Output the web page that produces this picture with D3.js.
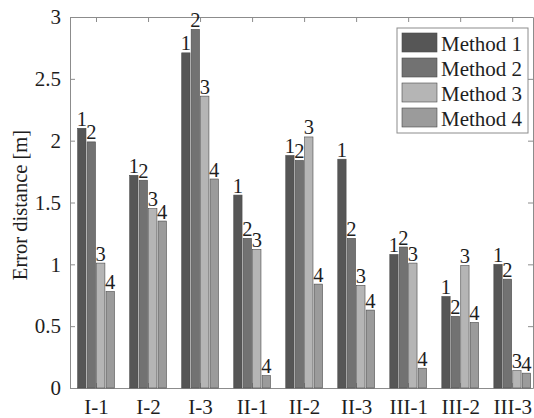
<!DOCTYPE html>
<html>
<head>
<meta charset="utf-8">
<script src="https://cdn.jsdelivr.net/npm/d3@7"></script>
<style>
  body { margin: 0; background: #fff; }
  svg text { fill: #1e1e1e; }
</style>
</head>
<body>
<div id="chart"></div>
<script>
const categories = ['I-1', 'I-2', 'I-3', 'II-1', 'II-2', 'II-3', 'III-1', 'III-2', 'III-3'];
const methods = ['Method 1', 'Method 2', 'Method 3', 'Method 4'];
const method1 = [2.10, 1.72, 2.71, 1.56, 1.88, 1.85, 1.08, 0.74, 1.00];
const method2 = [1.99, 1.68, 2.90, 1.21, 1.84, 1.21, 1.14, 0.58, 0.88];
const method3 = [1.01, 1.45, 2.36, 1.12, 2.03, 0.83, 1.01, 0.99, 0.14];
const method4 = [0.78, 1.35, 1.69, 0.10, 0.84, 0.63, 0.16, 0.53, 0.12];
const yTicks = [0, 0.5, 1, 1.5, 2, 2.5, 3];
const colors = ['#565656', '#727272', '#b5b5b5', '#9b9b9b'];

const series = [method1, method2, method3, method4];
const width = 534, height = 418;
const margin = { top: 17, right: 1, bottom: 30, left: 70 };
const plotW = width - margin.left - margin.right;
const plotH = height - margin.top - margin.bottom;
const serif = 'Liberation Serif';

const svg = d3.select('#chart').append('svg')
  .attr('width', width)
  .attr('height', height);

const g = svg.append('g').attr('transform', 'translate(' + margin.left + ',' + margin.top + ')');

// x is category index (1..9), like matlab bar()
const x = d3.scaleLinear().domain([0.5, 9.4]).range([0, plotW]);
const y = d3.scaleLinear().domain([0, 3]).range([plotH, 0]);

const slot = (x(2) - x(1)) * 0.727 / 4;
const barW = slot * 0.88;

/* axes with inward ticks */
const axisColor = '#8c8c8c';
const xTickVals = categories.map((c, i) => i + 1);

const xAxis = g.append('g').attr('transform', 'translate(0,' + plotH + ')')
  .call(d3.axisBottom(x).tickValues(xTickVals).tickSizeInner(-5).tickSizeOuter(0).tickPadding(11)
    .tickFormat((d, i) => categories[i]));
const xTop = g.append('g')
  .call(d3.axisTop(x).tickValues(xTickVals).tickSizeInner(-5).tickSizeOuter(0).tickFormat(''));
const yAxis = g.append('g')
  .call(d3.axisLeft(y).tickValues(yTicks).tickSizeInner(-5).tickSizeOuter(0).tickPadding(9)
    .tickFormat(d3.format('~g')));
const yRight = g.append('g').attr('transform', 'translate(' + plotW + ',0)')
  .call(d3.axisRight(y).tickValues(yTicks).tickSizeInner(-5).tickSizeOuter(0).tickFormat(''));

[xAxis, xTop, yAxis, yRight].forEach(a => {
  a.attr('font-family', null);
  a.select('.domain').attr('stroke', axisColor);
  a.selectAll('.tick line').attr('stroke', axisColor);
  a.selectAll('.tick text')
    .style('font-family', serif)
    .style('font-size', '21px')
    .attr('fill', '#1e1e1e');
});
xAxis.selectAll('.tick text').attr('dy', '0.71em');

/* bars */
series.forEach((vals, si) => {
  const off = (si - 1.5) * slot;
  g.selectAll('.bar' + si)
    .data(vals)
    .enter()
    .append('rect')
    .attr('class', 'bar' + si)
    .attr('x', (d, i) => x(i + 1) + off - barW / 2)
    .attr('y', d => y(d))
    .attr('width', barW)
    .attr('height', d => plotH - y(d))
    .attr('fill', colors[si])
    .attr('stroke', '#4a4a4a')
    .attr('stroke-width', 0.6);

  g.selectAll('.lab' + si)
    .data(vals)
    .enter()
    .append('text')
    .attr('class', 'lab' + si)
    .attr('text-anchor', 'middle')
    .attr('x', (d, i) => x(i + 1) + off)
    .attr('y', d => y(d) - 2.5)
    .style('font-family', serif)
    .style('font-size', '20.5px')
    .text(si + 1);
});

/* y label */
g.append('text')
  .attr('transform', 'rotate(-90)')
  .attr('x', -(205 - margin.top))
  .attr('y', -margin.left + 27)
  .attr('text-anchor', 'middle')
  .style('font-family', serif)
  .style('font-size', '20.5px')
  .text('Error distance [m]');

/* legend */
const lg = svg.append('g').attr('transform', 'translate(397,28)');
lg.append('rect')
  .attr('width', 131).attr('height', 105)
  .attr('fill', '#fff').attr('stroke', axisColor);
const item = lg.selectAll('.item').data(methods).enter().append('g')
  .attr('transform', (d, i) => 'translate(5,' + (5 + i * 25) + ')');
item.append('rect')
  .attr('width', 35).attr('height', 19)
  .attr('fill', (d, i) => colors[i])
  .attr('stroke', '#4a4a4a').attr('stroke-width', 0.6);
item.append('text')
  .attr('x', 39).attr('y', 17.5)
  .style('font-family', serif)
  .style('font-size', '21px')
  .text(d => d);
</script>
</body>
</html>
